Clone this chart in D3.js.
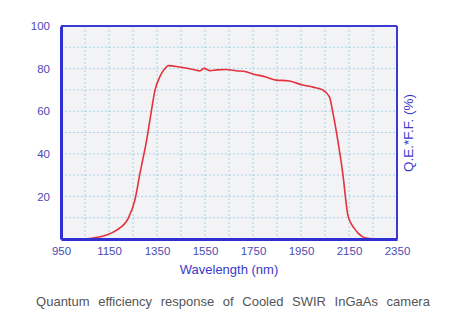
<!DOCTYPE html>
<html><head><meta charset="utf-8">
<script src="https://cdn.jsdelivr.net/npm/d3@7"></script>
<style>body{margin:0;background:#fff;}svg{display:block;}</style>
</head><body>
<script>
const wavelengths = [950,1000,1040,1085,1140,1182,1230,1258,1279,1307,1325,1342,1362,1383,1397,1450,1500,1529,1546,1571,1600,1637,1680,1721,1749,1800,1846,1895,1957,2000,2040,2068,2085,2103,2124,2145,2160,2172,2190,2207,2235,2280,2350];
const qe =        [0,0,0,0.5,1.9,4.2,9.7,18.3,30.8,46.5,59,70,76.2,80,81.4,80.6,79.6,78.9,80.1,79,79.4,79.6,79,78.5,77.5,76.2,74.6,74.3,72.3,71.3,70,66.8,58,46.5,30.8,11.3,7,5,2.5,1,0.2,0,0];
const xTicks = [950,1150,1350,1550,1750,1950,2150,2350];
const yTicks = [20,40,60,80,100];
const xGrid = [1050,1150,1250,1350,1450,1550,1650,1750,1850,1950,2050,2150,2250];
const yGrid = [10,20,30,40,50,60,70,80,90];
const xTitle = "Wavelength (nm)";
const yTitle = "Q.E.*F.F. (%)";
const caption = "Quantum efficiency response of Cooled SWIR InGaAs camera";

const W=452,H=331;
const svg=d3.select("body").append("svg").attr("width",W).attr("height",H);
const x=d3.scaleLinear().domain([950,2350]).range([61,397]);
const y=d3.scaleLinear().domain([0,100]).range([239,26]);
const font="'Liberation Sans', Arial, sans-serif";

svg.append("rect").attr("x",x(950)).attr("y",y(100)).attr("width",x(2350)-x(950)).attr("height",y(0)-y(100)).attr("fill","#f3f3f5");

svg.append("g").selectAll("line").data(xGrid).join("line")
  .attr("x1",d=>x(d)).attr("x2",d=>x(d)).attr("y1",y(100)).attr("y2",y(0))
  .attr("stroke","#a6d6e6").attr("stroke-width",1).attr("stroke-dasharray","2,2");
svg.append("g").selectAll("line").data(yGrid).join("line")
  .attr("y1",d=>y(d)).attr("y2",d=>y(d)).attr("x1",x(950)).attr("x2",x(2350))
  .attr("stroke","#a6d6e6").attr("stroke-width",1).attr("stroke-dasharray","2,2");

const line=d3.line().x((d,i)=>x(wavelengths[i])).y(d=>y(d)).curve(d3.curveMonotoneX);
svg.append("path").datum(qe).attr("d",line).attr("fill","none").attr("stroke","#e2323e").attr("stroke-width",1.6);

// frame
svg.append("line").attr("x1",x(950)).attr("x2",x(2350)).attr("y1",y(100)).attr("y2",y(100)).attr("stroke","#3a3ad0").attr("stroke-width",2);
svg.append("line").attr("x1",x(2350)).attr("x2",x(2350)).attr("y1",y(100)).attr("y2",y(0)).attr("stroke","#3a3ad0").attr("stroke-width",2);

const xAxis=svg.append("g").attr("transform",`translate(0,${y(0)})`)
  .call(d3.axisBottom(x).tickValues(xTicks).tickSize(0).tickPadding(8).tickFormat(d3.format("d")));
const yAxis=svg.append("g").attr("transform",`translate(${x(950)},0)`)
  .call(d3.axisLeft(y).tickValues(yTicks).tickSize(0).tickPadding(11).tickFormat(d3.format("d")));
[xAxis,yAxis].forEach(g=>{
  g.select(".domain").attr("stroke","#2f2fd2").attr("stroke-width",3);
  g.selectAll("text").attr("fill","#4a4ab4").attr("font-family",font).attr("font-size",11.5);
});

svg.append("text").attr("x",229).attr("y",274).attr("text-anchor","middle")
  .attr("font-family",font).attr("font-size",13).attr("fill","#3a3ac8").text(xTitle);
svg.append("text").attr("transform","translate(413,133) rotate(-90)").attr("text-anchor","middle")
  .attr("font-family",font).attr("font-size",13.5).attr("fill","#3a3ac8").text(yTitle);
svg.append("text").attr("x",233).attr("y",306).attr("text-anchor","middle")
  .attr("font-family",font).attr("font-size",13).attr("fill","#555").attr("word-spacing",5).text(caption);
</script>
</body></html>
